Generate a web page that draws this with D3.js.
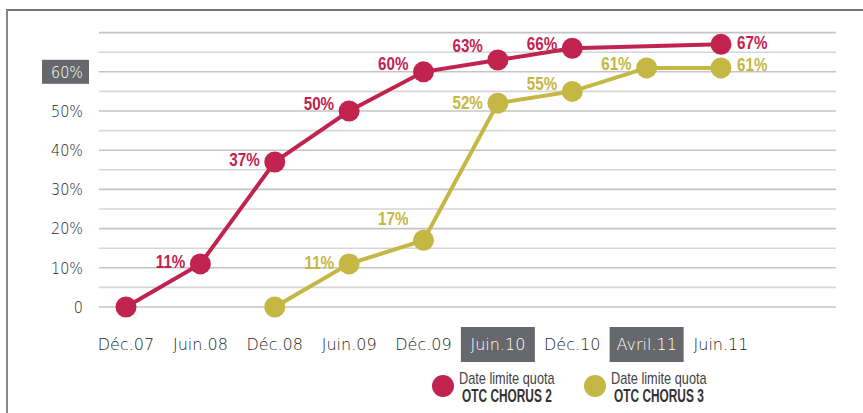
<!DOCTYPE html>
<html>
<head>
<meta charset="utf-8">
<script src="https://cdn.jsdelivr.net/npm/d3@7"></script>
<style>
  body { margin: 0; background: #fff; }
  svg { display: block; }
</style>
</head>
<body>
<svg id="chart" width="863" height="413"></svg>
<script>
// data
var periods = ["Déc.07", "Juin.08", "Déc.08", "Juin.09", "Déc.09", "Juin.10", "Déc.10", "Avril.11", "Juin.11"];
var chorus2 = [0, 11, 37, 50, 60, 63, 66, null, 67];
var chorus3 = [null, null, 0, 11, 17, 52, 55, 61, 61];
var yTicks = [0, 10, 20, 30, 40, 50, 60];
var gridTicks = [0, 5, 10, 15, 20, 25, 30, 35, 40, 45, 50, 55, 60, 65, 70];
var highlightedPeriods = ["Juin.10", "Avril.11"];
var legendLines = ["Date limite quota", "OTC CHORUS 2", "OTC CHORUS 3"];

var red = "#c1234f", olive = "#c4b743";
var sans = "'Liberation Sans', Arial, sans-serif";
var wide = "'DejaVu Sans', sans-serif";

var svg = d3.select("#chart");

var x = d3.scalePoint().domain(periods).range([126, 721]);
var y = d3.scaleLinear().domain([0, 70]).range([307, 32.6]);

// condensed text: squeeze horizontally around the anchor point
function narrowText(sel, px, py, sx) {
  return sel.append("g")
    .attr("transform", function(d, i) {
      return "translate(" + px(d, i) + "," + py(d, i) + ") scale(" + sx + ",1)";
    })
    .append("text");
}

// frame
svg.append("line").attr("x1", 6).attr("x2", 863).attr("y1", 10).attr("y2", 10)
  .attr("stroke", "#444").attr("stroke-width", 1.5);
svg.append("line").attr("x1", 7).attr("x2", 7).attr("y1", 10).attr("y2", 413)
  .attr("stroke", "#888").attr("stroke-width", 2);

// grid
svg.append("g").selectAll("line").data(gridTicks).enter().append("line")
  .attr("x1", 99).attr("x2", 836)
  .attr("y1", function(d) { return y(d); })
  .attr("y2", function(d) { return y(d); })
  .attr("stroke", function(d, i) { return i % 2 ? "#d6d6d6" : "#c4c4c4"; })
  .attr("stroke-width", 1.6);

// y axis labels
var yl = svg.append("g").selectAll("g").data(yTicks).enter().append("g")
  .attr("transform", function(d) { return "translate(0," + y(d) + ")"; });
yl.filter(function(d) { return d === 60; }).append("rect")
  .attr("x", 42).attr("y", -12).attr("width", 47).attr("height", 24)
  .attr("fill", "#67686c");
narrowText(yl, function() { return 83; }, function() { return 0; }, 0.9)
  .attr("dy", "0.36em")
  .attr("text-anchor", "end")
  .attr("font-family", wide).attr("font-weight", 300).attr("font-size", 16)
  .attr("fill", function(d) { return d === 60 ? "#fff" : "#1e1e1e"; })
  .text(function(d) { return d === 0 ? "0" : d + "%"; });

// x axis labels
var xl = svg.append("g").selectAll("g").data(periods).enter().append("g")
  .attr("transform", function(d) { return "translate(" + x(d) + ",344)"; });
xl.filter(function(d) { return highlightedPeriods.indexOf(d) >= 0; }).append("rect")
  .attr("x", -37).attr("y", -17).attr("width", 74).attr("height", 35)
  .attr("fill", "#67686c");
xl.append("text")
  .attr("text-anchor", "middle").attr("dy", "0.36em")
  .attr("font-family", wide).attr("font-weight", 300).attr("font-size", 16)
  .attr("fill", function(d) { return highlightedPeriods.indexOf(d) >= 0 ? "#fff" : "#1e1e1e"; })
  .text(function(d) { return d; });

// label nudges (vertical offset of the value label centre from the marker)
var nudge = { "c2:Juin.08": -3, "c2:Déc.08": -3, "c2:Juin.09": -8, "c2:Déc.09": -9,
  "c2:Juin.10": -15, "c2:Déc.10": -5, "c2:Juin.11": -2,
  "c3:Juin.09": -2, "c3:Déc.09": -22, "c3:Juin.10": -1, "c3:Déc.10": -8,
  "c3:Avril.11": -5, "c3:Juin.11": -4 };

function drawSeries(values, color, key) {
  var pts = periods.map(function(p, i) { return { p: p, v: values[i] }; })
    .filter(function(d) { return d.v !== null; });
  var line = d3.line().x(function(d) { return x(d.p); }).y(function(d) { return y(d.v); });
  var g = svg.append("g");
  g.append("path").datum(pts).attr("d", line)
    .attr("fill", "none").attr("stroke", color).attr("stroke-width", 4);
  g.selectAll("circle").data(pts).enter().append("circle")
    .attr("cx", function(d) { return x(d.p); })
    .attr("cy", function(d) { return y(d.v); })
    .attr("r", 10.5).attr("fill", color);
  var lab = g.selectAll("g.lab").data(pts.filter(function(d) { return d.v > 0; })).enter();
  narrowText(lab,
      function(d) { return d.p === "Juin.11" ? x(d.p) + 16 : x(d.p) - 15; },
      function(d) { return y(d.v) + (nudge[key + ":" + d.p] || 0); }, 0.8)
    .attr("dy", "0.36em")
    .attr("text-anchor", function(d) { return d.p === "Juin.11" ? "start" : "end"; })
    .attr("font-family", sans).attr("font-weight", "bold").attr("font-size", 19)
    .attr("fill", color)
    .text(function(d) { return d.v + "%"; });
}
drawSeries(chorus3, olive, "c3");
drawSeries(chorus2, red, "c2");

// legend
var legend = svg.append("g").selectAll("g").data([red, olive]).enter().append("g")
  .attr("transform", function(d, i) { return "translate(" + (443 + i * 152) + ",386)"; });
legend.append("circle").attr("r", 11).attr("fill", function(d) { return d; });
narrowText(legend, function() { return 16; }, function() { return -2; }, 0.75)
  .attr("font-family", sans).attr("font-size", 17).attr("fill", "#444")
  .text(legendLines[0]);
narrowText(legend, function() { return 19; }, function() { return 16; }, 0.66)
  .attr("font-family", sans).attr("font-weight", "bold").attr("font-size", 18).attr("fill", "#333")
  .text(function(d, i) { return legendLines[i + 1]; });
</script>
</body>
</html>
